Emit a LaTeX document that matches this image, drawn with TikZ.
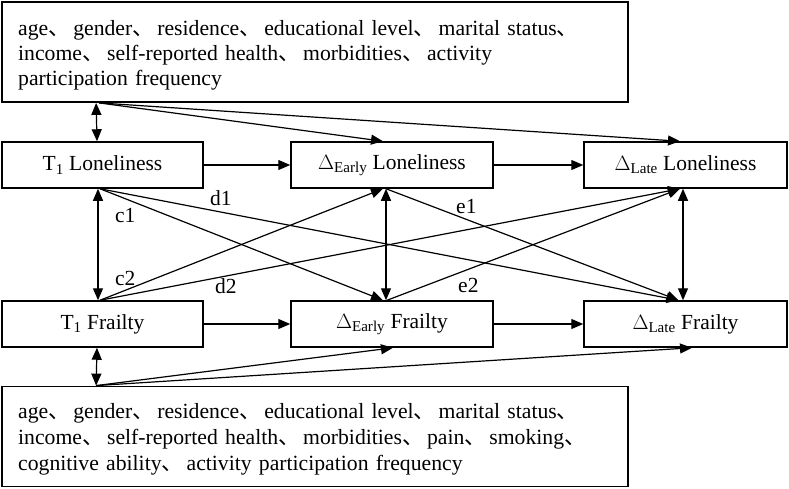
\documentclass[tikz,border=0pt]{standalone}
\usepackage{fontspec}
\setmainfont{Liberation Serif}
\newfontfamily\cjk{Noto Sans CJK SC}
\usetikzlibrary{arrows.meta}
\newcommand{\dn}{{\cjk 、}\hspace{3.3pt}}
\begin{document}
\begin{tikzpicture}[x=1pt,y=-1pt,
  font=\fontsize{21.5}{25.5}\selectfont,
  var/.style={draw,line width=1.5pt,minimum width=201pt,minimum height=46pt,inner sep=0pt},
  cov/.style={draw,line width=1.8pt,minimum width=626pt,minimum height=100pt,inner sep=0pt},
  covtxt/.style={inner sep=0pt,anchor=base west,text width=600pt,align=left},
  tip/.tip={Triangle[length=12pt,width=10pt]},
  arr/.style={line width=1.2pt,-tip},
  dbl/.style={line width=1.2pt,tip-tip},
  lab/.style={inner sep=0pt,anchor=base west}]
\useasboundingbox (0,0) rectangle (789,488);
\node[cov] (top) at (315,52) {};
\node[covtxt,font=\fontsize{21.7}{25.2}\selectfont] (toptxt) at (18,35) {age\dn gender\dn residence\dn educational level\dn marital status\dn\\income\dn self-reported health\dn morbidities\dn activity\\participation frequency};
\node[cov] (bot) at (315,436.5) {};
\node[covtxt,font=\fontsize{21.7}{26}\selectfont] (bottxt) at (18,418) {age\dn gender\dn residence\dn educational level\dn marital status\dn\\income\dn self-reported health\dn morbidities\dn pain\dn smoking\dn\\cognitive ability\dn activity participation frequency};
\node[var] (T1L) at (102.5,165) {T\textsubscript{1} Loneliness};
\node[var,minimum width=202pt] (EL) at (392,165) {$\Delta$\textsubscript{Early} Loneliness};
\node[var,minimum width=203pt] (LL) at (685.5,165) {$\Delta$\textsubscript{Late} Loneliness};
\node[var] (T1F) at (102.5,324) {T\textsubscript{1} Frailty};
\node[var,minimum width=202pt] (EF) at (392,324) {$\Delta$\textsubscript{Early} Frailty};
\node[var,minimum width=203pt] (LF) at (685.5,324) {$\Delta$\textsubscript{Late} Frailty};
% covariates top
\draw[dbl] ([xshift=95pt]top.south west) -- ([xshift=-5.5pt]T1L.north);
\draw[arr] ([xshift=98pt]top.south west) -- ([xshift=-9pt]EL.north);
\draw[arr] ([xshift=98pt]top.south west) -- ([xshift=-5.5pt]LL.north);
% horizontal
\draw[arr] (T1L) -- (EL);
\draw[arr] (EL) -- (LL);
\draw[arr] (T1F) -- (EF);
\draw[arr] (EF) -- (LF);
% verticals
\draw[dbl] ([xshift=-4.5pt]T1L.south) -- ([xshift=-4.5pt]T1F.north);
\draw[dbl] ([xshift=-6pt]EL.south) -- ([xshift=-6pt]EF.north);
\draw[dbl] ([xshift=-2.5pt]LL.south) -- ([xshift=-2.5pt]LF.north);
% cross paths
\draw[arr] ([xshift=-2.5pt]T1L.south) -- ([xshift=-9pt]EF.north);
\draw[arr] ([xshift=-2.5pt]T1L.south) -- ([xshift=-7pt]LF.north);
\draw[arr] ([xshift=-2.5pt]T1F.north) -- ([xshift=-9pt]EL.south);
\draw[arr] ([xshift=-2.5pt]T1F.north) -- ([xshift=-5.5pt]LL.south);
\draw[arr] ([xshift=-6pt]EL.south) -- ([xshift=-7pt]LF.north);
\draw[arr] ([xshift=-5pt]EF.north) -- ([xshift=-5.5pt]LL.south);
% covariates bottom
\draw[dbl] ([xshift=95pt]bot.north west) -- ([xshift=-5.5pt]T1F.south);
\draw[arr] ([xshift=95pt]bot.north west) -- ([xshift=1pt]EF.south);
\draw[arr] ([xshift=95pt]bot.north west) -- ([xshift=6.5pt]LF.south);
% labels
\node[lab] (c1) at (115,222) {c1};
\node[lab] (c2) at (115,285) {c2};
\node[lab] (d1) at (210,205) {d1};
\node[lab] (d2) at (215,293) {d2};
\node[lab] (e1) at (456,213) {e1};
\node[lab] (e2) at (458,292) {e2};
\end{tikzpicture}
\end{document}
